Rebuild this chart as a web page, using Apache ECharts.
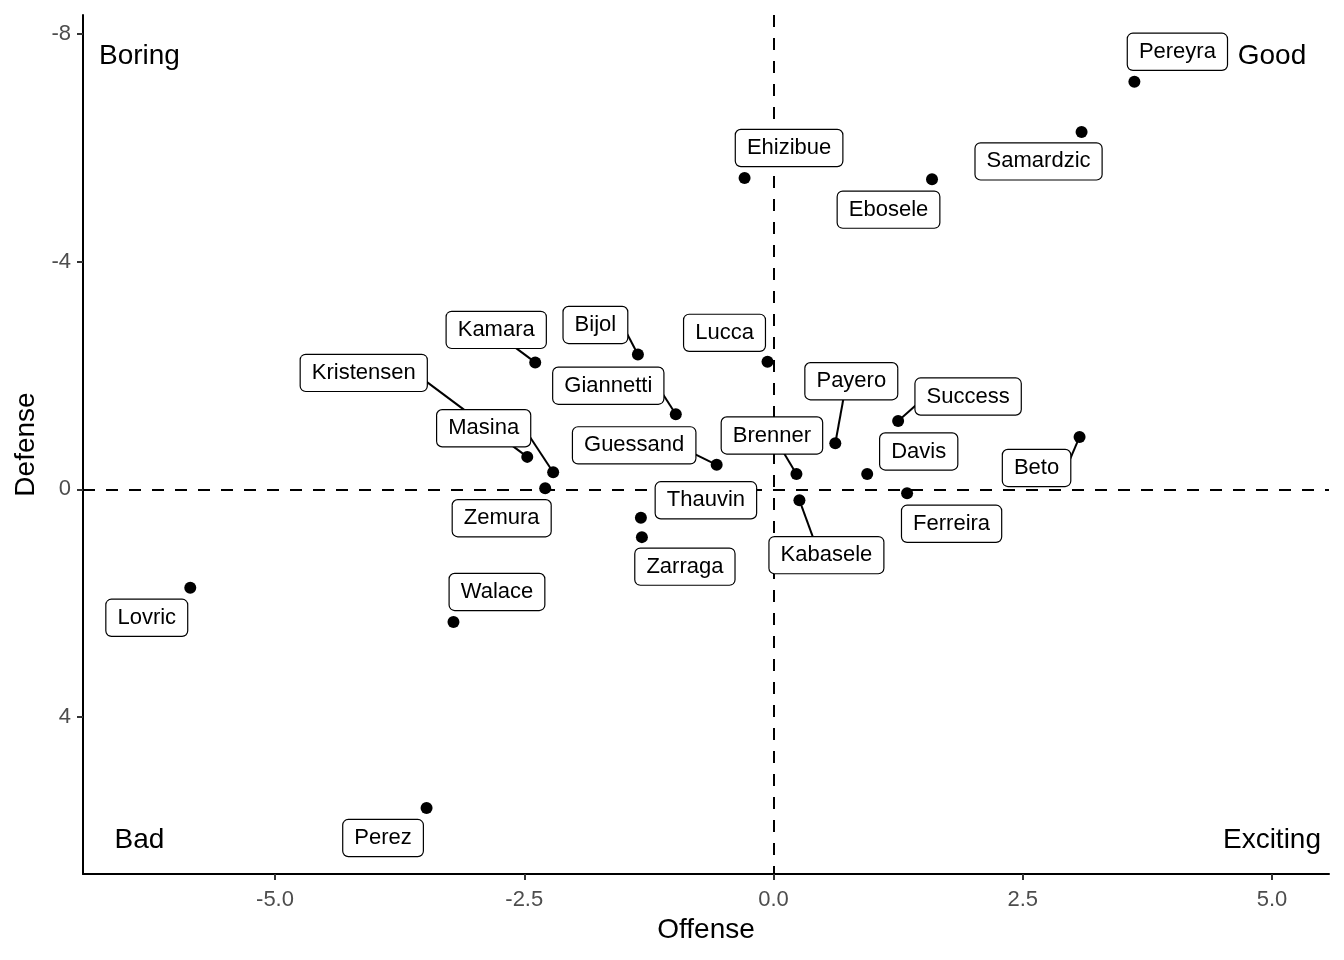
<!DOCTYPE html>
<html>
<head>
<meta charset="utf-8">
<script src="https://cdn.jsdelivr.net/npm/echarts@6/dist/echarts.min.js"></script>
<style>
html,body{margin:0;padding:0;background:#fff;}
#chart{width:1344px;height:960px;}
</style>
</head>
<body>
<div id="chart"></div>
<script>
// ---- data ----
const players = ['Pereyra','Samardzic','Ebosele','Ehizibue','Lucca','Bijol','Kamara','Kristensen','Giannetti','Masina','Guessand','Payero','Success','Brenner','Davis','Beto','Zemura','Thauvin','Zarraga','Kabasele','Ferreira','Walace','Lovric','Perez'];
const offense = [3.62, 3.09, 1.59, -0.29, -0.06, -1.36, -2.39, -2.47, -0.98, -2.21, -0.57, 0.62, 1.25, 0.23, 0.94, 3.07, -2.29, -1.33, -1.32, 0.26, 1.34, -3.21, -5.85, -3.48];
const defense = [-7.16, -6.28, -5.45, -5.47, -2.24, -2.37, -2.23, -0.57, -1.32, -0.30, -0.43, -0.81, -1.20, -0.27, -0.27, -0.92, -0.02, 0.50, 0.84, 0.19, 0.07, 2.33, 1.73, 5.60];

const quadNames = ['Boring', 'Good', 'Bad', 'Exciting'];
const quadX = [-6.36, 5.0, -6.36, 5.0];
const quadY = [-7.61, -7.61, 6.16, 6.16];

const xTicks = [-5, -2.5, 0, 2.5, 5];
const yTicks = [-8, -4, 0, 4];

// ---- label layout (repelled label offsets in px, segment flags) ----
const labelDx = [43, -43, -43.5, 44.5, -43, -42.5, -39, -163.5, -67.5, -69.5, -82.5, 16, 70, -24.5, 51.5, -43, -43.5, 65, 43, 27, 44.5, 43.5, -43.5, -43.5];
const labelDy = [-30, 29.5, 30.5, -30, -29, -29.5, -32.5, -84, -28.5, -44, -19.5, -62, -24.5, -38.5, -22.5, 31, 30, -17.5, 29.5, 55, 30.5, -30, 30, 30];
const showSegment = [false,false,false,false,false,true,true,true,true,true,true,true,true,true,false,true,false,false,false,true,false,false,false,false];

const FONT = '"Liberation Sans", Arial, Helvetica, sans-serif';
const LABEL_FONT_SIZE = 22;
const LABEL_PAD = [7, 11];

// text width measurement for label boxes (used to attach segments like ggrepel)
const measureCtx = document.createElement('canvas').getContext('2d');
measureCtx.font = LABEL_FONT_SIZE + 'px ' + FONT;
function boxSize(name) {
  return [measureCtx.measureText(name).width + 2 * LABEL_PAD[1], LABEL_FONT_SIZE + 2 * LABEL_PAD[0]];
}

const pointData = players.map((n, i) => ({ name: n, value: [offense[i], defense[i]] }));
const segData = [];
players.forEach((n, i) => { if (showSegment[i]) segData.push([offense[i], defense[i], i]); });
const quadData = quadNames.map((n, i) => ({ name: n, value: [quadX[i], quadY[i]] }));

function renderSegment(params, api) {
  const i = api.value(2);
  const p = api.coord([api.value(0), api.value(1)]);
  const cx = p[0] + labelDx[i], cy = p[1] + labelDy[i];
  const sz = boxSize(players[i]);
  const x1 = cx - sz[0] / 2, x2 = cx + sz[0] / 2, y1 = cy - sz[1] / 2, y2 = cy + sz[1] / 2;
  let ax, ay;
  if (p[0] < x1 || p[0] > x2) {
    ax = p[0] < x1 ? x1 : x2;
    ay = (Math.min(Math.max(p[1], y1), y2) + cy) / 2;
  } else {
    ay = p[1] < y1 ? y1 : y2;
    ax = (Math.min(Math.max(p[0], x1), x2) + cx) / 2;
  }
  return {
    type: 'line',
    shape: { x1: ax, y1: ay, x2: p[0], y2: p[1] },
    style: { stroke: '#000', lineWidth: 2 }
  };
}

const chart = echarts.init(document.getElementById('chart'), null, { renderer: 'canvas' });
chart.setOption({
  animation: false,
  backgroundColor: '#fff',
  textStyle: { fontFamily: FONT },
  grid: { left: 83, right: 15, top: 15, bottom: 86, containLabel: false, outerBoundsMode: 'none' },
  xAxis: {
    type: 'value',
    min: -6.926, max: 5.572,
    name: 'Offense', nameLocation: 'middle', nameGap: 41,
    nameTextStyle: { fontSize: 28, color: '#000', fontFamily: FONT },
    axisLine: { onZero: false, lineStyle: { color: '#000', width: 2 } },
    axisTick: { customValues: xTicks, length: 6, lineStyle: { color: '#333', width: 2 } },
    axisLabel: { customValues: xTicks, formatter: v => v.toFixed(1), fontSize: 22, color: '#4d4d4d', margin: 15, fontFamily: FONT },
    splitLine: { show: false }
  },
  yAxis: {
    type: 'value',
    inverse: true,
    min: -8.334, max: 6.759,
    name: 'Defense', nameLocation: 'middle', nameGap: 43,
    nameTextStyle: { fontSize: 28, color: '#000', fontFamily: FONT },
    axisLine: { onZero: false, lineStyle: { color: '#000', width: 2 } },
    axisTick: { customValues: yTicks, length: 6, lineStyle: { color: '#333', width: 2 } },
    axisLabel: { customValues: yTicks, formatter: v => String(v), fontSize: 22, color: '#4d4d4d', margin: 12, fontFamily: FONT },
    splitLine: { show: false }
  },
  series: [
    {
      type: 'scatter',
      z: 1,
      data: [],
      markLine: {
        z: 1,
        silent: true,
        symbol: 'none',
        label: { show: false },
        lineStyle: { type: [12, 11], color: '#000', width: 2 },
        data: [{ xAxis: 0 }, { yAxis: 0 }]
      }
    },
    {
      type: 'custom',
      z: 2,
      silent: true,
      renderItem: renderSegment,
      data: segData
    },
    {
      type: 'scatter',
      z: 3,
      symbol: 'circle',
      symbolSize: 12,
      itemStyle: { color: '#000', opacity: 1 },
      data: pointData,
      label: {
        show: true,
        position: 'inside',
        formatter: p => p.name,
        fontSize: LABEL_FONT_SIZE,
        lineHeight: LABEL_FONT_SIZE,
        color: '#000',
        opacity: 1,
        fontFamily: FONT,
        backgroundColor: '#fff',
        borderColor: '#000',
        borderWidth: 1.2,
        borderRadius: 5,
        padding: LABEL_PAD
      },
      labelLayout: p => ({ dx: labelDx[p.dataIndex], dy: labelDy[p.dataIndex] }),
      emphasis: { disabled: true }
    },
    {
      type: 'scatter',
      z: 2,
      symbolSize: 0,
      silent: true,
      itemStyle: { opacity: 1 },
      data: quadData,
      label: {
        show: true,
        position: 'inside',
        formatter: p => p.name,
        fontSize: 28,
        color: '#000',
        opacity: 1,
        fontFamily: FONT
      }
    }
  ]
});
</script>
</body>
</html>
